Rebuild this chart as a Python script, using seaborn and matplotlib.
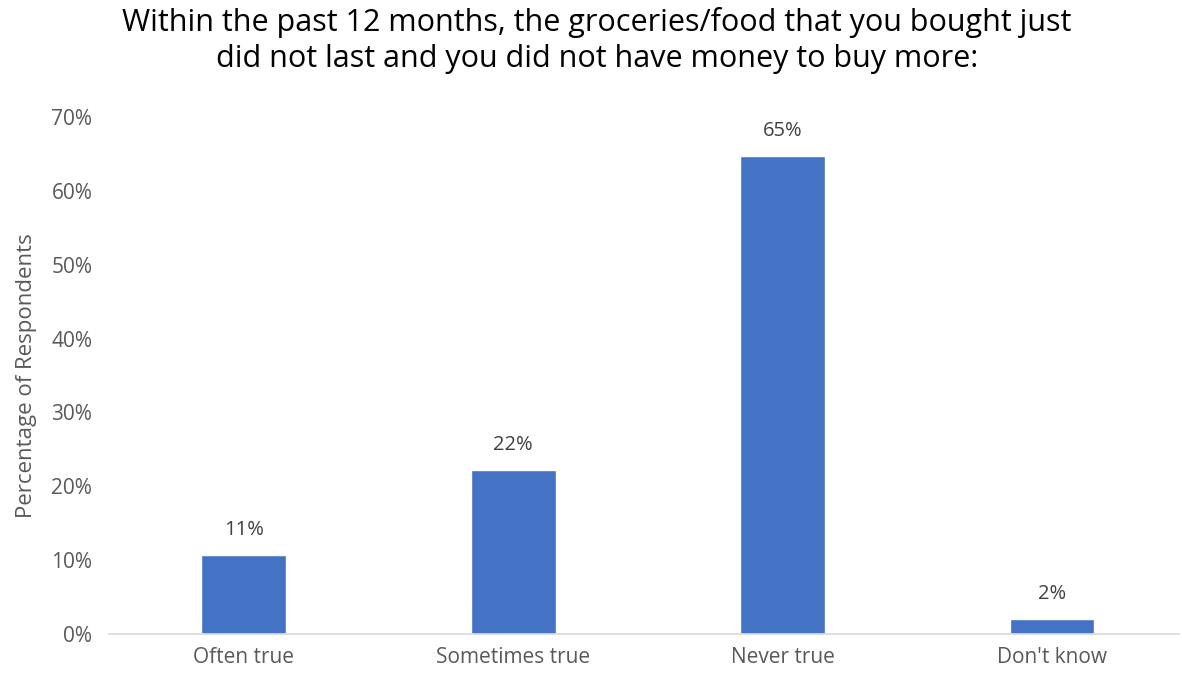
import matplotlib
matplotlib.use("Agg")
import matplotlib.pyplot as plt
import seaborn as sns
import pandas as pd

categories = ["Often true", "Sometimes true", "Never true", "Don't know"]
values = [10.7, 22.2, 64.7, 2.0]
labels = ["11%", "22%", "65%", "2%"]
yticks = [0, 10, 20, 30, 40, 50, 60, 70]
ytick_labels = ["0%", "10%", "20%", "30%", "40%", "50%", "60%", "70%"]
title = "Within the past 12 months, the groceries/food that you bought just\ndid not last and you did not have money to buy more:"
ylabel = "Percentage of Respondents"

sns.set_theme(style="white")
plt.rcParams['font.family'] = ['Open Sans', 'DejaVu Sans']

df = pd.DataFrame({"cat": categories, "val": values})

fig = plt.figure(figsize=(11.82, 6.77), dpi=100)
ax = fig.add_axes([0.0922, 0.0635, 0.905, 0.7637])
sns.barplot(data=df, x="cat", y="val", color="#4472C4", width=0.315, saturation=1, ax=ax)

for i, (v, lab) in enumerate(zip(values, labels)):
    ax.text(i, v + 2.0, lab, ha="center", va="bottom", fontsize=14.5, color="#404040")

ax.set_ylim(0, 70)
ax.set_xlim(-0.5, 3.47)
ax.set_yticks(yticks)
ax.set_yticklabels(ytick_labels, fontsize=15, color="#595959")
ax.tick_params(axis="x", labelsize=15, colors="#595959", length=0, pad=9)
ax.tick_params(axis="y", length=0, pad=12)
ax.set_xlabel("")
ax.set_ylabel(ylabel, fontsize=16, color="#595959", labelpad=10)
for s in ["top", "right", "left"]:
    ax.spines[s].set_visible(False)
ax.spines["bottom"].set_color("#D9D9D9")
ax.spines["bottom"].set_linewidth(1.2)

fig.text(0.505, 0.99, title, ha="center", va="top", fontsize=22, color="#000000", linespacing=1.25)

fig.savefig("out.png", dpi=100)
